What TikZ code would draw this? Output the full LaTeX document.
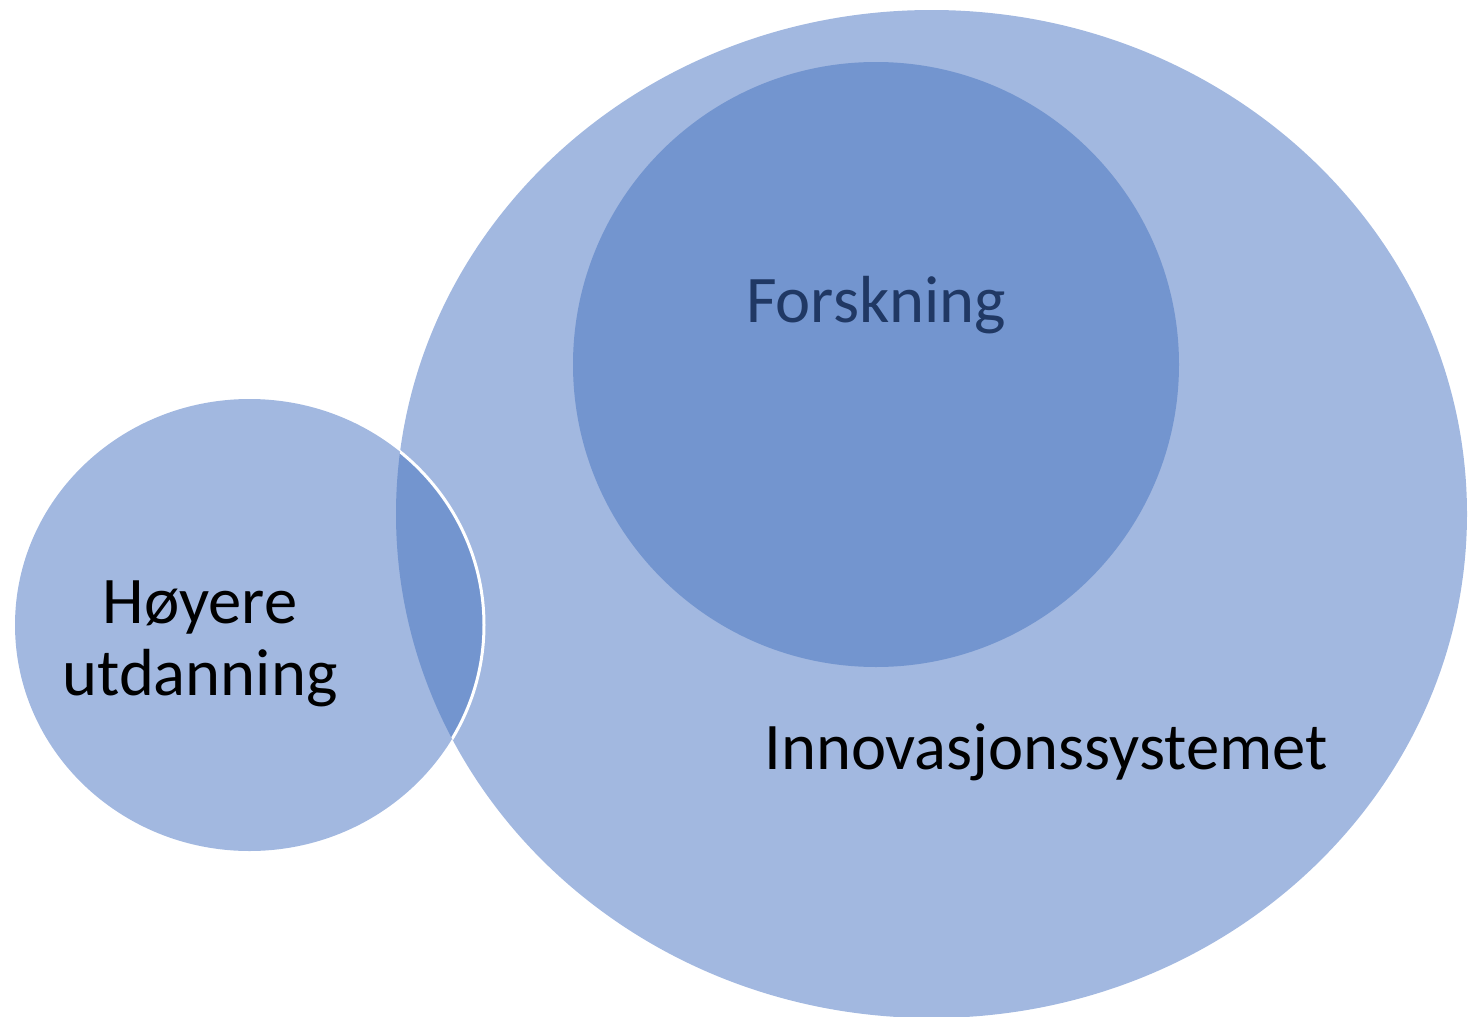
\documentclass[tikz,border=0pt]{standalone}
\usepackage{fontspec}
\setmainfont{Carlito}
\definecolor{lightblue}{HTML}{A2B8E0}
\definecolor{darkblue}{HTML}{7395CF}
\definecolor{navytext}{HTML}{203864}
\begin{document}
\begin{tikzpicture}[x=0.5pt,y=-0.5pt,
  lbl/.style={font=\fontsize{33.3}{36}\selectfont, inner sep=0pt, align=center}]
\useasboundingbox (0,0) rectangle (1469,1017);
\begin{scope}
\clip (0,0) rectangle (1469,1017);
% big ellipse
\fill[lightblue] (931.5,514) ellipse [x radius=535.5, y radius=504];
% small circle
\fill[lightblue] (249.5,625) ellipse [x radius=234.5, y radius=226];
% overlap
\begin{scope}
\clip (931.5,514) ellipse [x radius=535.5, y radius=504];
\fill[darkblue] (249.5,625) ellipse [x radius=234.5, y radius=226];
\draw[white, line width=1.5pt] (249.5,625) ellipse [x radius=234.5, y radius=226];
\end{scope}
% Forskning circle
\fill[darkblue] (876,364.5) ellipse [x radius=303, y radius=302.5];
\end{scope}
\node[lbl, text=navytext] (fors) at (876,305) {Forskning};
\node[lbl] (inno) at (1046,752) {Innovasjonssystemet};
\node[lbl] (hoy) at (200,644) {Høyere\\utdanning};
\end{tikzpicture}
\end{document}
